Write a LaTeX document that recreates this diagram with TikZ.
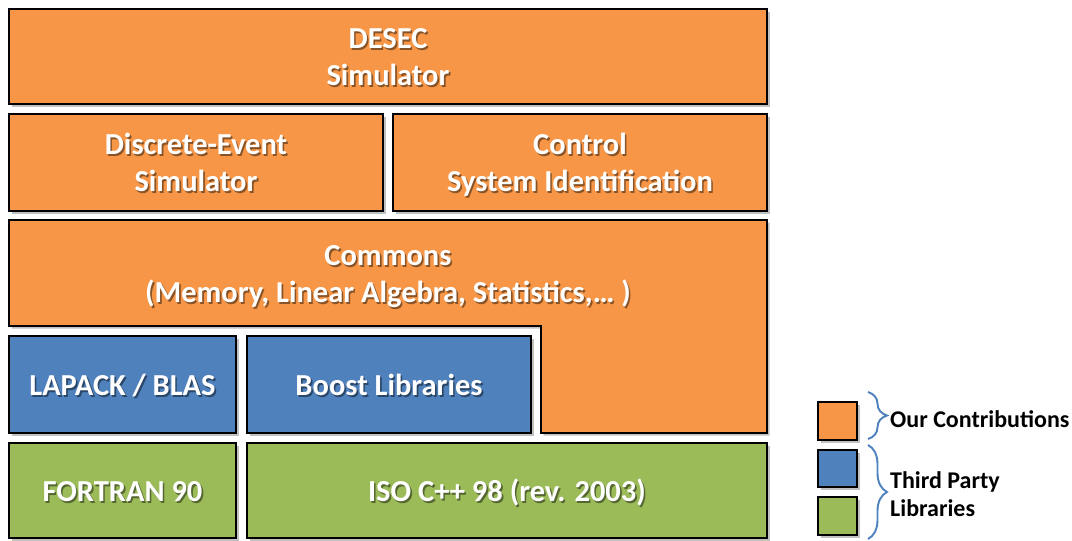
\documentclass[tikz,border=0pt]{standalone}
\usepackage{fontspec}
\setmainfont{Carlito}
\usetikzlibrary{shadows,decorations.pathreplacing}
\definecolor{layerorange}{HTML}{F79646}
\definecolor{layerblue}{HTML}{4F81BD}
\definecolor{layergreen}{HTML}{9BBB59}
\definecolor{bracecol}{HTML}{4F81BD}
\tikzset{
  layer/.style={draw=black, line width=1.8pt, line join=miter,
    drop shadow={shadow xshift=2.5pt, shadow yshift=-2.5pt, opacity=0.35, fill=black!70}},
  keybox/.style={layer, line width=2.2pt},
  lbl/.style={text=white, align=center, inner sep=0pt,
    font=\fontsize{30.5}{37}\selectfont\bfseries},
  keytext/.style={text=black, align=left, anchor=west, inner sep=0pt,
    font=\fontsize{24}{28}\selectfont\bfseries},
  keybrace/.style={draw=bracecol, line width=1.9pt,
    decorate, decoration={brace, amplitude=19pt}},
}
% white centred lines over a darker copy nudged down and right
\newcommand\shadetext[2]{%
  \leavevmode\rlap{\raisebox{-1.6pt}[0pt][0pt]{\hspace{1.6pt}\color{#1}%
    \begin{tabular}{@{}c@{}}#2\end{tabular}}}%
  \begin{tabular}{@{}c@{}}#2\end{tabular}}
\begin{document}
\begin{tikzpicture}[x=1pt, y=-1pt]
\useasboundingbox (0,0) rectangle (1072,541);

% top level
\path[layer, fill=layerorange] (9,9) rectangle (767,104);
\path[layer, fill=layerorange] (9,114) rectangle (383,211);
\path[layer, fill=layerorange] (393,114) rectangle (767,211);

% commons (L-shaped)
\path[layer, fill=layerorange]
  (9,220) -- (767,220) -- (767,433) -- (541,433) -- (541,326) -- (9,326) -- cycle;

% third party libraries
\path[layer, fill=layerblue] (9,336) rectangle (236,433);
\path[layer, fill=layerblue] (247,336) rectangle (531,433);

% languages
\path[layer, fill=layergreen] (9,443) rectangle (236,538);
\path[layer, fill=layergreen] (247,443) rectangle (767,538);

% labels
\node[lbl] (desec) at (388,60) {\shadetext{layerorange!55!black}{DESEC\\Simulator}};
\node[lbl] (des) at (196,166) {\shadetext{layerorange!55!black}{Discrete-Event\\Simulator}};
\node[lbl] (ctl) at (580,166) {\shadetext{layerorange!55!black}{Control\\System Identification}};
\node[lbl] (com) at (388,277) {\shadetext{layerorange!55!black}{Commons\\(Memory, Linear Algebra, Statistics,\dots\ )}};
\node[lbl] (lap) at (122.5,388) {\shadetext{layerblue!55!black}{LAPACK / BLAS}};
\node[lbl] (boost) at (389,388) {\shadetext{layerblue!55!black}{Boost Libraries}};
\node[lbl] (fort) at (122.5,494) {\shadetext{layergreen!55!black}{FORTRAN 90}};
\node[lbl] (cpp) at (507,494) {\shadetext{layergreen!55!black}{ISO C++ 98 (rev. 2003)}};

% legend
\path[keybox, fill=layerorange] (818,402) rectangle (857,440);
\path[keybox, fill=layerblue] (818,450) rectangle (857,487);
\path[keybox, fill=layergreen] (818,497) rectangle (857,535);

\coordinate (b1top) at (868,392);
\coordinate (b1bot) at (868,439);
\coordinate (b2top) at (868,445);
\coordinate (b2bot) at (868,539);
\draw[keybrace] (b1top) -- (b1bot);
\draw[keybrace] (b2top) -- (b2bot);

\node[keytext] (ours) at (890,419) {Our Contributions};
\node[keytext] (third) at (890,494) {Third Party\\Libraries};
\end{tikzpicture}
\end{document}
